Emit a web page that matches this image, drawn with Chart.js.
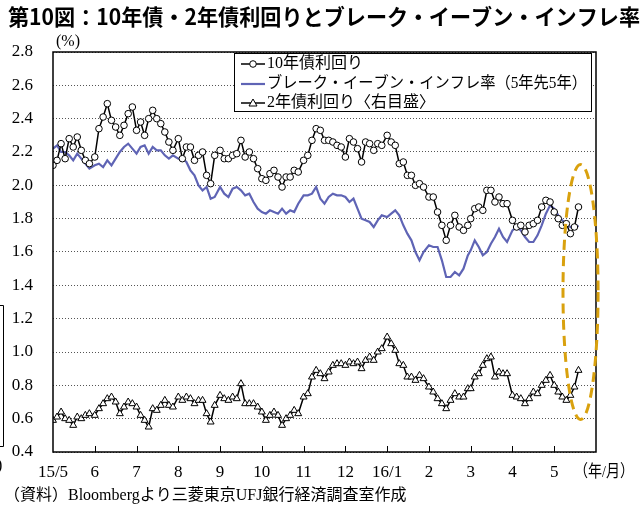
<!DOCTYPE html>
<html>
<head>
<meta charset="utf-8">
<script src="https://cdn.jsdelivr.net/npm/chart.js@4/dist/chart.umd.min.js"></script>
<style>
html,body{margin:0;padding:0;background:#fff;}
#wrap{width:644px;height:513px;position:relative;}
</style>
</head>
<body>
<div id="wrap"><canvas id="c" width="644" height="513"></canvas></div>
<script>
// ---- data ----
const titleText = "第10図：10年債・2年債利回りとブレーク・イーブン・インフレ率";
const sourceText = "（資料）Bloombergより三菱東京UFJ銀行経済調査室作成";
const unitText = "(%)";
const xUnitText = "（年/月）";
const seriesNames = ["10年債利回り", "ブレーク・イーブン・インフレ率（5年先5年）", "2年債利回り〈右目盛〉"];
const monthLabels = ["15/5","6","7","8","9","10","11","12","16/1","2","3","4","5",""];
const yTicks = [0.4,0.6,0.8,1.0,1.2,1.4,1.6,1.8,2.0,2.2,2.4,2.6,2.8];

const dates = [
"15/5/1","15/5/4","15/5/7","15/5/10","15/5/13","15/5/16","15/5/19","15/5/22","15/5/25","15/5/28",
"15/6/1","15/6/4","15/6/7","15/6/10","15/6/13","15/6/16","15/6/19","15/6/22","15/6/25","15/6/28",
"15/7/1","15/7/4","15/7/7","15/7/10","15/7/13","15/7/16","15/7/19","15/7/22","15/7/25","15/7/28",
"15/8/1","15/8/4","15/8/7","15/8/10","15/8/13","15/8/16","15/8/19","15/8/22","15/8/25","15/8/28",
"15/9/1","15/9/4","15/9/7","15/9/10","15/9/13","15/9/16","15/9/19","15/9/22","15/9/25","15/9/28",
"15/10/1","15/10/4","15/10/7","15/10/10","15/10/13","15/10/16","15/10/19","15/10/22","15/10/25","15/10/28",
"15/11/1","15/11/4","15/11/7","15/11/10","15/11/13","15/11/16","15/11/19","15/11/22","15/11/25","15/11/28",
"15/12/1","15/12/4","15/12/7","15/12/10","15/12/13","15/12/16","15/12/19","15/12/22","15/12/25","15/12/28",
"16/1/1","16/1/4","16/1/7","16/1/10","16/1/13","16/1/16","16/1/19","16/1/22","16/1/25","16/1/28",
"16/2/1","16/2/4","16/2/7","16/2/10","16/2/13","16/2/16","16/2/19","16/2/22","16/2/25","16/2/28",
"16/3/1","16/3/4","16/3/7","16/3/10","16/3/13","16/3/16","16/3/19","16/3/22","16/3/25","16/3/28",
"16/4/1","16/4/4","16/4/7","16/4/10","16/4/13","16/4/16","16/4/19","16/4/22","16/4/25","16/4/28",
"16/5/1","16/5/4","16/5/7","16/5/10","16/5/13","16/5/16","16/5/19"
];

const tenYear = [
2.12,2.15,2.25,2.16,2.28,2.23,2.29,2.21,2.15,2.13,
2.17,2.34,2.41,2.49,2.39,2.35,2.30,2.36,2.43,2.47,
2.33,2.38,2.30,2.40,2.45,2.40,2.37,2.32,2.26,2.21,
2.28,2.16,2.23,2.23,2.15,2.18,2.20,2.06,2.01,2.18,
2.21,2.16,2.16,2.18,2.19,2.27,2.17,2.20,2.16,2.10,
2.04,2.03,2.07,2.09,2.05,1.99,2.05,2.05,2.09,2.08,
2.15,2.18,2.27,2.34,2.33,2.27,2.27,2.26,2.24,2.23,
2.17,2.28,2.26,2.22,2.14,2.26,2.25,2.21,2.25,2.24,
2.30,2.26,2.24,2.13,2.14,2.06,2.06,2.00,2.01,1.99,
1.93,1.93,1.84,1.76,1.67,1.76,1.82,1.75,1.73,1.76,
1.80,1.86,1.87,1.85,1.97,1.97,1.90,1.93,1.89,1.89,
1.79,1.75,1.76,1.72,1.76,1.77,1.79,1.87,1.91,1.90,
1.84,1.80,1.76,1.77,1.71,1.75,1.87
];

const breakEven = [
2.22,2.24,2.20,2.20,2.18,2.15,2.19,2.16,2.13,2.10,
2.12,2.13,2.11,2.15,2.12,2.16,2.20,2.23,2.25,2.22,
2.19,2.23,2.24,2.19,2.23,2.21,2.21,2.18,2.16,2.18,
2.16,2.16,2.14,2.09,2.06,2.00,1.97,1.99,1.92,1.93,
1.99,1.95,1.93,1.98,1.99,1.97,1.94,1.95,1.90,1.86,
1.84,1.83,1.85,1.84,1.83,1.86,1.83,1.85,1.84,1.89,
1.94,1.94,1.95,1.99,1.92,1.89,1.93,1.95,1.94,1.94,
1.93,1.90,1.92,1.86,1.80,1.79,1.78,1.75,1.79,1.82,
1.81,1.83,1.85,1.82,1.76,1.71,1.67,1.60,1.55,1.60,
1.64,1.63,1.63,1.55,1.45,1.45,1.48,1.46,1.50,1.58,
1.61,1.67,1.63,1.58,1.60,1.65,1.69,1.74,1.69,1.66,
1.73,1.75,1.73,1.69,1.66,1.66,1.70,1.76,1.83,1.88,
1.86,1.82,1.79,1.77,1.75,1.74,1.76
];

const twoYear = [
0.59,0.61,0.64,0.60,0.59,0.56,0.61,0.60,0.62,0.63,
0.62,0.66,0.69,0.72,0.73,0.70,0.63,0.67,0.70,0.69,
0.67,0.62,0.59,0.55,0.66,0.65,0.68,0.71,0.68,0.67,
0.73,0.71,0.73,0.72,0.69,0.71,0.71,0.63,0.58,0.68,
0.74,0.72,0.71,0.73,0.72,0.81,0.69,0.69,0.69,0.67,
0.64,0.59,0.62,0.64,0.62,0.56,0.60,0.62,0.65,0.63,
0.73,0.75,0.85,0.89,0.87,0.84,0.88,0.92,0.93,0.93,
0.92,0.94,0.93,0.94,0.90,0.95,0.97,0.95,1.00,1.02,
1.09,1.05,1.01,0.93,0.92,0.85,0.85,0.83,0.86,0.84,
0.79,0.76,0.72,0.69,0.66,0.71,0.75,0.73,0.73,0.78,
0.78,0.85,0.87,0.92,0.96,0.97,0.85,0.88,0.87,0.87,
0.74,0.73,0.72,0.69,0.72,0.76,0.75,0.80,0.83,0.86,
0.80,0.76,0.73,0.71,0.74,0.79,0.89
];

// highlighted period (dashed ellipse), in data units
const highlight = { centerMonth: 12.63, centerValue: 1.36, radiusMonths: 0.42, radiusValue: 0.765 };

// ---- helpers ----
function monthPos(s) {
  const p = s.split('/').map(Number);
  const yy = 2000 + p[0], m = p[1], d = p[2];
  const dim = new Date(yy, m, 0).getDate();
  return (yy - 2015) * 12 + (m - 5) + (d - 1) / dim;
}
function toPoints(vals) { return vals.map((v, i) => ({ x: monthPos(dates[i]), y: v })); }

const SERIF = '"Liberation Serif", "Times New Roman", "Noto Sans CJK JP", serif';
const GOTHIC = '"Noto Sans CJK JP", "Noto Sans", sans-serif';
const BLUE = '#5F64B5';
const GOLD = '#D9A10E';

const decor = {
  id: 'decor',
  afterDraw(chart) {
    const ctx = chart.ctx;
    const ca = chart.chartArea;
    const xs = chart.scales.x, ys = chart.scales.y;
    ctx.save();
    // inner month ticks
    ctx.strokeStyle = '#000'; ctx.lineWidth = 1;
    for (let i = 1; i < monthLabels.length - 1; i++) {
      const px = Math.round(xs.getPixelForValue(i)) + 0.5;
      ctx.beginPath(); ctx.moveTo(px, ca.bottom); ctx.lineTo(px, ca.bottom - 6); ctx.stroke();
    }
    // plot border
    ctx.lineWidth = 1.5;
    ctx.strokeRect(ca.left, ca.top, ca.right - ca.left, ca.bottom - ca.top);

    // legend box
    const lx = 234, ly = 53, lw = 357, lh = 58;
    ctx.fillStyle = '#fff'; ctx.fillRect(lx, ly, lw, lh);
    ctx.lineWidth = 1; ctx.strokeStyle = '#000';
    ctx.strokeRect(lx + 0.5, ly + 0.5, lw, lh);
    const rows = [64, 84, 103];
    ctx.font = '16px ' + SERIF; ctx.textBaseline = 'middle'; ctx.textAlign = 'left';
    // row 1
    ctx.strokeStyle = '#000'; ctx.lineWidth = 1.5;
    ctx.beginPath(); ctx.moveTo(241, rows[0]); ctx.lineTo(265, rows[0]); ctx.stroke();
    ctx.lineWidth = 1; ctx.fillStyle = '#fff';
    ctx.beginPath(); ctx.arc(253, rows[0], 3.3, 0, Math.PI * 2); ctx.fill(); ctx.stroke();
    // row 2
    ctx.strokeStyle = BLUE; ctx.lineWidth = 2.2;
    ctx.beginPath(); ctx.moveTo(241, rows[1]); ctx.lineTo(265, rows[1]); ctx.stroke();
    // row 3
    ctx.strokeStyle = '#000'; ctx.lineWidth = 1.5;
    ctx.beginPath(); ctx.moveTo(241, rows[2]); ctx.lineTo(265, rows[2]); ctx.stroke();
    ctx.lineWidth = 1; ctx.fillStyle = '#fff';
    ctx.beginPath(); ctx.moveTo(253, rows[2] - 4); ctx.lineTo(257, rows[2] + 3); ctx.lineTo(249, rows[2] + 3); ctx.closePath(); ctx.fill(); ctx.stroke();
    ctx.fillStyle = '#000';
    ctx.fillText(seriesNames[0], 267, rows[0]);
    ctx.fillText(seriesNames[1], 267, rows[1], 320);
    ctx.fillText(seriesNames[2], 267, rows[2]);

    // dashed ellipse highlight
    const cx = xs.getPixelForValue(highlight.centerMonth);
    const cy = ys.getPixelForValue(highlight.centerValue);
    const rx = xs.getPixelForValue(highlight.centerMonth + highlight.radiusMonths) - cx;
    const ry = cy - ys.getPixelForValue(highlight.centerValue + highlight.radiusValue);
    ctx.strokeStyle = GOLD; ctx.lineWidth = 3; ctx.setLineDash([10, 6]);
    ctx.beginPath(); ctx.ellipse(cx, cy, rx, ry, 0, 0, Math.PI * 2); ctx.stroke();
    ctx.setLineDash([]);

    // title
    ctx.fillStyle = '#000';
    ctx.font = 'bold 22px ' + GOTHIC; ctx.textBaseline = 'middle'; ctx.textAlign = 'left';
    ctx.fillText(titleText, 8, 17, 632);
    // unit
    ctx.font = '16px ' + SERIF;
    ctx.fillText(unitText, 56, 42);
    // x unit
    ctx.font = '17px ' + SERIF;
    ctx.fillText(xUnitText, 574, 473, 60);
    // source
    ctx.font = '16px ' + SERIF;
    ctx.fillText(sourceText, 4, 496, 434);
    // left bracket remnant
    ctx.strokeStyle = '#000'; ctx.lineWidth = 1;
    ctx.beginPath(); ctx.moveTo(0, 305.5); ctx.lineTo(3.5, 305.5); ctx.lineTo(3.5, 446.5); ctx.lineTo(0, 446.5); ctx.stroke();
    ctx.font = '16px ' + SERIF;
    ctx.fillText(')', -3, 466);
    ctx.restore();
  }
};

new Chart(document.getElementById('c'), {
  type: 'line',
  data: {
    datasets: [
      { label: seriesNames[0], data: toPoints(tenYear), borderColor: '#000', borderWidth: 1.5,
        pointStyle: 'circle', pointRadius: 3.3, pointBackgroundColor: '#fff', pointBorderColor: '#000', pointBorderWidth: 1, tension: 0 },
      { label: seriesNames[1], data: toPoints(breakEven), borderColor: BLUE, borderWidth: 2.2,
        pointRadius: 0, tension: 0 },
      { label: seriesNames[2], data: toPoints(twoYear), borderColor: '#000', borderWidth: 1.5,
        pointStyle: 'triangle', pointRadius: 4, pointBackgroundColor: '#fff', pointBorderColor: '#000', pointBorderWidth: 1, tension: 0 }
    ]
  },
  options: {
    responsive: false, animation: false, devicePixelRatio: 1,
    layout: { padding: { top: 52, right: 48, bottom: 0, left: 0 } },
    plugins: { legend: { display: false }, tooltip: { enabled: false }, title: { display: false } },
    scales: {
      x: {
        type: 'linear', min: 0, max: monthLabels.length - 1,
        afterBuildTicks: s => { s.ticks = monthLabels.map((_, i) => ({ value: i })); },
        afterFit: s => { s.height = 61; },
        ticks: { autoSkip: false, maxRotation: 0, padding: 10, color: '#000',
          font: { family: SERIF, size: 17 }, callback: v => monthLabels[v] },
        grid: { display: false, drawTicks: false },
        border: { display: false }
      },
      y: {
        min: yTicks[0], max: yTicks[yTicks.length - 1],
        afterBuildTicks: s => { s.ticks = yTicks.map(v => ({ value: v })); },
        afterFit: s => { s.width = 53; },
        ticks: { padding: 20, color: '#000', font: { family: SERIF, size: 17 }, callback: v => Number(v).toFixed(1) },
        grid: { color: '#555', lineWidth: 1, drawTicks: false },
        border: { display: false, dash: [1, 2] }
      }
    }
  },
  plugins: [decor]
});
</script>
</body>
</html>
